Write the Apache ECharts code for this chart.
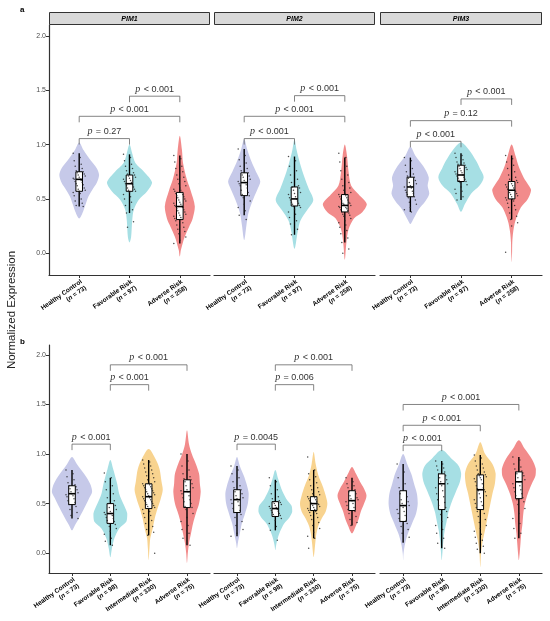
<!DOCTYPE html>
<html>
<head>
<meta charset="utf-8">
<script src="https://cdn.jsdelivr.net/npm/echarts@6/dist/echarts.min.js"></script>
<style>
  html, body { margin: 0; padding: 0; background: #fff; }
  #main { width: 550px; height: 621px; }
</style>
</head>
<body>
<div id="main"></div>
<script>
// ---- data ----
var genes = ['PIM1', 'PIM2', 'PIM3'];
var groupsA = ['Healthy Control', 'Favorable Risk', 'Adverse Risk'];
var nA = [73, 97, 258];
var groupsB = ['Healthy Control', 'Favorable Risk', 'Intermediate Risk', 'Adverse Risk'];
var nB = [73, 98, 330, 75];
var yTicks = [0, 0.5, 1, 1.5, 2];

// violin outlines: [value, half width as share of the category slot]
var violinA_PIM1 = [
  [[1.02,0],[0.95,0.08],[0.85,0.22],[0.78,0.33],[0.72,0.37],[0.65,0.33],[0.58,0.24],[0.52,0.17],[0.45,0.12],[0.38,0.07],[0.32,0]],
  [[1.0,0],[0.92,0.05],[0.83,0.11],[0.75,0.27],[0.65,0.42],[0.57,0.33],[0.49,0.17],[0.4,0.08],[0.3,0.05],[0.15,0.03],[0.1,0]],
  [[1.08,0],[0.95,0.04],[0.83,0.06],[0.68,0.13],[0.58,0.2],[0.43,0.28],[0.32,0.24],[0.24,0.17],[0.15,0.09],[0.03,0.02],[-0.03,0]]
];
var violinA_PIM2 = [
  [[1.05,0],[0.95,0.06],[0.85,0.13],[0.75,0.22],[0.66,0.3],[0.58,0.24],[0.5,0.17],[0.42,0.11],[0.35,0.07],[0.25,0.04],[0.12,0]],
  [[1.05,0],[0.95,0.04],[0.85,0.09],[0.75,0.15],[0.6,0.26],[0.49,0.35],[0.4,0.24],[0.3,0.11],[0.2,0.06],[0.04,0]],
  [[1.0,0],[0.9,0.04],[0.75,0.07],[0.62,0.12],[0.54,0.26],[0.45,0.41],[0.38,0.33],[0.32,0.17],[0.22,0.07],[0.1,0.03],[-0.06,0]]
];
var violinA_PIM3 = [
  [[0.98,0],[0.9,0.09],[0.8,0.24],[0.7,0.34],[0.62,0.32],[0.55,0.35],[0.48,0.28],[0.4,0.15],[0.3,0.04],[0.27,0]],
  [[1.02,0],[0.95,0.15],[0.85,0.28],[0.78,0.35],[0.7,0.42],[0.62,0.34],[0.55,0.19],[0.45,0.07],[0.38,0]],
  [[1.0,0],[0.9,0.07],[0.8,0.13],[0.7,0.22],[0.62,0.32],[0.58,0.36],[0.5,0.3],[0.42,0.17],[0.3,0.07],[0.2,0.03],[0.1,0.012],[0.0,0.008],[-0.08,0]]
];
var violinB_PIM1 = [
  [[0.97,0],[0.9,0.12],[0.8,0.3],[0.7,0.45],[0.62,0.5],[0.55,0.42],[0.45,0.3],[0.35,0.17],[0.28,0.07],[0.23,0]],
  [[0.94,0],[0.85,0.07],[0.7,0.17],[0.6,0.22],[0.5,0.32],[0.4,0.42],[0.32,0.4],[0.25,0.22],[0.15,0.1],[0.05,0.04],[-0.04,0]],
  [[1.05,0],[0.95,0.17],[0.85,0.27],[0.72,0.32],[0.64,0.35],[0.55,0.3],[0.45,0.22],[0.35,0.15],[0.25,0.1],[0.15,0.04],[0.05,0.02],[-0.07,0]],
  [[1.24,0],[1.1,0.05],[1.0,0.12],[0.9,0.22],[0.8,0.3],[0.7,0.32],[0.62,0.34],[0.5,0.3],[0.4,0.22],[0.3,0.15],[0.2,0.1],[0.1,0.05],[0.0,0.02],[-0.1,0]]
];
var violinB_PIM2 = [
  [[0.97,0],[0.88,0.07],[0.78,0.17],[0.68,0.25],[0.6,0.29],[0.5,0.27],[0.4,0.2],[0.3,0.12],[0.2,0.07],[0.1,0.02],[0.05,0]],
  [[0.84,0],[0.75,0.07],[0.65,0.15],[0.55,0.27],[0.48,0.4],[0.42,0.42],[0.36,0.35],[0.3,0.22],[0.22,0.12],[0.15,0.06],[0.08,0.02],[0.03,0]],
  [[1.02,0],[0.9,0.05],[0.78,0.12],[0.68,0.22],[0.58,0.3],[0.5,0.34],[0.42,0.3],[0.35,0.2],[0.28,0.12],[0.2,0.07],[0.1,0.04],[-0.04,0]],
  [[0.87,0],[0.8,0.1],[0.72,0.2],[0.65,0.3],[0.58,0.36],[0.5,0.3],[0.42,0.22],[0.35,0.17],[0.28,0.1],[0.2,0]]
];
var violinB_PIM3 = [
  [[1.0,0],[0.9,0.1],[0.8,0.2],[0.7,0.27],[0.6,0.34],[0.5,0.36],[0.4,0.32],[0.3,0.22],[0.2,0.12],[0.1,0.05],[0.0,0.01],[-0.07,0]],
  [[1.04,0],[0.95,0.25],[0.88,0.42],[0.8,0.48],[0.72,0.45],[0.62,0.35],[0.52,0.25],[0.42,0.17],[0.32,0.12],[0.22,0.07],[0.12,0.04],[0.02,0.02],[-0.07,0]],
  [[1.12,0],[1.0,0.12],[0.9,0.3],[0.8,0.38],[0.7,0.36],[0.6,0.3],[0.5,0.25],[0.4,0.2],[0.3,0.15],[0.2,0.1],[0.1,0.05],[0.0,0.02],[-0.14,0]],
  [[1.14,0],[1.05,0.15],[0.95,0.32],[0.85,0.42],[0.78,0.41],[0.7,0.32],[0.6,0.22],[0.5,0.15],[0.4,0.11],[0.3,0.09],[0.2,0.06],[0.1,0.04],[0.0,0.02],[-0.07,0]]
];

// box stats: [lower whisker, Q1, median, Q3, upper whisker]
var boxA_PIM1 = [[0.43,0.57,0.68,0.75,0.92],[0.37,0.57,0.64,0.72,0.91],[0.09,0.31,0.43,0.56,0.9]];
var boxA_PIM2 = [[0.35,0.53,0.65,0.74,0.96],[0.17,0.435,0.5,0.61,0.89],[0.1,0.38,0.44,0.54,0.88]];
var boxA_PIM3 = [[0.38,0.52,0.61,0.7,0.88],[0.49,0.66,0.72,0.81,0.92],[0.31,0.5,0.58,0.66,0.9]];
var boxB_PIM1 = [[0.35,0.49,0.6,0.68,0.84],[0.08,0.3,0.4,0.5,0.76],[0.18,0.45,0.57,0.7,0.94],[0.08,0.46,0.62,0.74,1.0]];
var boxB_PIM2 = [[0.17,0.41,0.54,0.64,0.88],[0.23,0.37,0.45,0.52,0.74],[0.15,0.43,0.5,0.57,0.84],[0.28,0.43,0.53,0.63,0.76]];
var boxB_PIM3 = [[0.11,0.32,0.48,0.63,0.9],[0.05,0.44,0.7,0.8,0.93],[0.0,0.44,0.64,0.79,0.99],[0.15,0.55,0.72,0.82,0.97]];

// a sample of the individual samples shown as dots
var pointsA_PIM1 = [
  [0.92,0.88,0.85,0.82,0.8,0.78,0.76,0.75,0.74,0.73,0.72,0.71,0.7,0.69,0.68,0.68,0.67,0.66,0.65,0.64,0.63,0.62,0.6,0.59,0.58,0.57,0.56,0.55,0.53,0.5,0.48,0.46,0.44,0.43],
  [0.91,0.88,0.85,0.82,0.8,0.78,0.76,0.74,0.73,0.72,0.71,0.7,0.69,0.68,0.67,0.66,0.65,0.64,0.63,0.62,0.61,0.6,0.59,0.58,0.57,0.56,0.54,0.52,0.5,0.47,0.44,0.4,0.37,0.29,0.24],
  [0.9,0.87,0.84,0.8,0.78,0.75,0.72,0.7,0.68,0.66,0.64,0.62,0.6,0.59,0.58,0.57,0.56,0.55,0.54,0.53,0.52,0.51,0.5,0.49,0.48,0.47,0.46,0.45,0.44,0.43,0.43,0.42,0.41,0.4,0.39,0.38,0.37,0.36,0.35,0.34,0.33,0.32,0.31,0.3,0.28,0.26,0.24,0.22,0.2,0.18,0.15,0.12,0.09]
];
var pointsA_PIM2 = [
  [0.96,0.9,0.86,0.83,0.8,0.78,0.76,0.74,0.72,0.71,0.7,0.68,0.67,0.66,0.65,0.64,0.63,0.62,0.6,0.58,0.56,0.54,0.53,0.51,0.48,0.45,0.42,0.39,0.35,0.31],
  [0.89,0.85,0.8,0.76,0.72,0.68,0.65,0.62,0.61,0.6,0.58,0.56,0.55,0.54,0.52,0.51,0.5,0.49,0.48,0.47,0.46,0.45,0.44,0.43,0.42,0.4,0.38,0.36,0.33,0.3,0.27,0.22,0.17],
  [0.92,0.88,0.84,0.8,0.76,0.72,0.68,0.65,0.62,0.6,0.58,0.56,0.55,0.54,0.53,0.52,0.51,0.5,0.49,0.48,0.47,0.46,0.46,0.45,0.44,0.44,0.43,0.42,0.42,0.41,0.4,0.39,0.38,0.37,0.36,0.35,0.34,0.32,0.3,0.28,0.26,0.24,0.21,0.18,0.14,0.1,0.04,0.0]
];
var pointsA_PIM3 = [
  [0.88,0.85,0.81,0.78,0.75,0.73,0.71,0.7,0.69,0.67,0.65,0.64,0.62,0.61,0.6,0.58,0.57,0.56,0.55,0.54,0.52,0.51,0.49,0.47,0.45,0.42,0.4,0.38],
  [0.92,0.9,0.88,0.86,0.84,0.83,0.82,0.81,0.8,0.79,0.78,0.77,0.76,0.75,0.74,0.73,0.72,0.71,0.7,0.69,0.68,0.67,0.66,0.65,0.63,0.61,0.59,0.57,0.55,0.52,0.49],
  [0.9,0.87,0.84,0.81,0.78,0.75,0.72,0.7,0.68,0.67,0.66,0.65,0.64,0.63,0.62,0.61,0.6,0.59,0.58,0.58,0.57,0.56,0.55,0.54,0.53,0.52,0.51,0.5,0.49,0.48,0.46,0.44,0.42,0.4,0.37,0.34,0.31,0.28,0.25,0.01]
];
var pointsB_PIM1 = [
  [0.84,0.8,0.77,0.74,0.71,0.69,0.68,0.67,0.65,0.64,0.62,0.61,0.6,0.59,0.58,0.57,0.55,0.53,0.51,0.49,0.47,0.44,0.41,0.38,0.35],
  [0.81,0.76,0.72,0.68,0.64,0.6,0.56,0.53,0.5,0.48,0.46,0.44,0.42,0.41,0.4,0.39,0.38,0.36,0.35,0.33,0.32,0.3,0.29,0.27,0.25,0.22,0.19,0.15,0.12,0.08],
  [0.94,0.92,0.9,0.88,0.86,0.84,0.82,0.8,0.78,0.76,0.74,0.72,0.71,0.7,0.69,0.68,0.67,0.66,0.65,0.64,0.63,0.62,0.61,0.6,0.59,0.58,0.57,0.56,0.55,0.54,0.53,0.52,0.51,0.5,0.49,0.48,0.47,0.46,0.45,0.44,0.42,0.4,0.38,0.36,0.33,0.3,0.27,0.24,0.21,0.18,0.0],
  [1.0,0.93,0.88,0.84,0.8,0.77,0.75,0.74,0.72,0.7,0.68,0.66,0.64,0.63,0.62,0.6,0.58,0.56,0.54,0.52,0.5,0.47,0.46,0.44,0.4,0.36,0.32,0.28,0.24,0.2,0.15,0.08]
];
var pointsB_PIM2 = [
  [0.88,0.84,0.8,0.76,0.72,0.68,0.66,0.64,0.62,0.6,0.58,0.56,0.55,0.54,0.52,0.5,0.48,0.45,0.43,0.41,0.39,0.36,0.32,0.28,0.24,0.2,0.17],
  [0.76,0.72,0.68,0.64,0.6,0.57,0.55,0.53,0.52,0.51,0.5,0.49,0.48,0.47,0.46,0.45,0.44,0.43,0.42,0.41,0.4,0.39,0.38,0.37,0.35,0.33,0.3,0.27,0.23,0.13],
  [0.97,0.84,0.8,0.77,0.74,0.71,0.68,0.66,0.64,0.62,0.6,0.59,0.58,0.57,0.56,0.55,0.54,0.53,0.52,0.51,0.5,0.5,0.49,0.48,0.47,0.46,0.45,0.44,0.43,0.42,0.41,0.4,0.38,0.36,0.34,0.31,0.28,0.25,0.21,0.17,0.15,0.05],
  [0.76,0.72,0.7,0.68,0.66,0.64,0.62,0.6,0.58,0.56,0.55,0.54,0.53,0.52,0.5,0.48,0.46,0.44,0.42,0.4,0.37,0.34,0.31,0.28]
];
var pointsB_PIM3 = [
  [0.9,0.82,0.76,0.7,0.66,0.63,0.6,0.57,0.54,0.52,0.5,0.48,0.46,0.44,0.42,0.4,0.38,0.35,0.33,0.32,0.3,0.27,0.24,0.2,0.16,0.11],
  [0.93,0.9,0.88,0.86,0.84,0.82,0.8,0.78,0.76,0.74,0.72,0.7,0.68,0.66,0.63,0.6,0.57,0.54,0.51,0.48,0.46,0.44,0.42,0.39,0.36,0.32,0.28,0.24,0.2,0.15,0.1,0.05],
  [0.99,0.96,0.93,0.9,0.88,0.86,0.84,0.82,0.8,0.79,0.78,0.77,0.76,0.75,0.74,0.72,0.7,0.68,0.66,0.65,0.64,0.63,0.62,0.6,0.58,0.56,0.54,0.52,0.5,0.48,0.46,0.44,0.42,0.4,0.37,0.34,0.31,0.28,0.25,0.22,0.19,0.16,0.13,0.1,0.07,0.04,0.0],
  [0.97,0.94,0.9,0.87,0.85,0.83,0.82,0.81,0.8,0.78,0.76,0.74,0.72,0.7,0.68,0.66,0.64,0.62,0.6,0.58,0.56,0.54,0.52,0.49,0.45,0.4,0.35,0.3,0.25,0.2,0.15]
];

// significance brackets: [from group, to group, height, p text]
var bracketsA_PIM1 = [[1,2,1.445,'< 0.001'],[0,2,1.26,'< 0.001'],[0,1,1.055,'= 0.27']];
var bracketsA_PIM2 = [[1,2,1.45,'< 0.001'],[0,2,1.26,'< 0.001'],[0,1,1.055,'< 0.001']];
var bracketsA_PIM3 = [[1,2,1.42,'< 0.001'],[0,2,1.22,'= 0.12'],[0,1,1.03,'< 0.001']];
var bracketsB_PIM1 = [[1,3,1.9,'< 0.001'],[1,2,1.7,'< 0.001'],[0,1,1.1,'< 0.001']];
var bracketsB_PIM2 = [[1,3,1.9,'< 0.001'],[1,2,1.7,'= 0.006'],[0,1,1.1,'= 0.0045']];
var bracketsB_PIM3 = [[0,3,1.5,'< 0.001'],[0,2,1.29,'< 0.001'],[0,1,1.09,'< 0.001']];

// ---- styling ----
var colHC = '#c6c9e9', colFR = '#a6dfe4', colIR = '#f8d38f', colAR = '#f28b8b';
var colorsA = [colHC, colFR, colAR];
var colorsB = [colHC, colFR, colIR, colAR];
var panelLefts = [49, 214, 380];
var panelWidths = [161, 161, 162];
var pad = 0.6;   // discrete axis expansion, as ggplot does

var panels = [
  { top: 25, height: 250, col: 0, groups: groupsA, ns: nA, colors: colorsA, violins: violinA_PIM1, boxes: boxA_PIM1, points: pointsA_PIM1, brackets: bracketsA_PIM1 },
  { top: 25, height: 250, col: 1, groups: groupsA, ns: nA, colors: colorsA, violins: violinA_PIM2, boxes: boxA_PIM2, points: pointsA_PIM2, brackets: bracketsA_PIM2 },
  { top: 25, height: 250, col: 2, groups: groupsA, ns: nA, colors: colorsA, violins: violinA_PIM3, boxes: boxA_PIM3, points: pointsA_PIM3, brackets: bracketsA_PIM3 },
  { top: 345, height: 228, col: 0, groups: groupsB, ns: nB, colors: colorsB, violins: violinB_PIM1, boxes: boxB_PIM1, points: pointsB_PIM1, brackets: bracketsB_PIM1 },
  { top: 345, height: 228, col: 1, groups: groupsB, ns: nB, colors: colorsB, violins: violinB_PIM2, boxes: boxB_PIM2, points: pointsB_PIM2, brackets: bracketsB_PIM2 },
  { top: 345, height: 228, col: 2, groups: groupsB, ns: nB, colors: colorsB, violins: violinB_PIM3, boxes: boxB_PIM3, points: pointsB_PIM3, brackets: bracketsB_PIM3 }
];

var chart = echarts.init(document.getElementById('main'), null, { renderer: 'canvas' });

function violinItem(p) {
  return function (params, api) {
    var g = api.value(0);
    var unit = api.size([1, 0])[0];
    // widths were read against equal slots: panel width / number of groups
    var slot = unit * (p.groups.length - 1 + 2 * pad) / p.groups.length;
    var cx = api.coord([g, 0])[0];
    var yOf = function (v) { return api.coord([g, v])[1]; };
    var right = [], left = [];
    var maxW = 0;
    p.violins[g].forEach(function (d) {
      right.push([cx + d[1] * slot, yOf(d[0])]);
      if (d[1] > 0) left.unshift([cx - d[1] * slot, yOf(d[0])]);
      maxW = Math.max(maxW, d[1] * slot);
    });
    var shape = p.violins[g];
    var yTop = yOf(shape[0][0]), yBot = yOf(shape[shape.length - 1][0]);
    var b = p.boxes[g];
    var bw = 3.3;
    var children = [
      { type: 'polygon',
        shape: { points: right.concat(left), smooth: 0.3,
          smoothConstraint: [[cx - maxW, yTop], [cx + maxW, yBot]] },
        style: { fill: p.colors[g], stroke: null } },
      { type: 'line', shape: { x1: cx, y1: yOf(b[0]), x2: cx, y2: yOf(b[4]) },
        style: { stroke: '#000', lineWidth: 1.4 } },
      { type: 'rect', shape: { x: cx - bw, y: yOf(b[3]), width: 2 * bw, height: yOf(b[1]) - yOf(b[3]) },
        style: { fill: '#fff', stroke: '#000', lineWidth: 1 } }
    ];
    // jittered dots, spread sideways in a fixed pattern
    p.points[g].forEach(function (v, i) {
      var off = (((i * 7) % 13) / 12 - 0.5) * 12;
      children.push({ type: 'circle', shape: { cx: cx + off, cy: yOf(v), r: 0.75 },
        style: { fill: 'rgba(30,30,30,0.8)' } });
    });
    children.push({ type: 'line', shape: { x1: cx - bw, y1: yOf(b[2]), x2: cx + bw, y2: yOf(b[2]) },
      style: { stroke: '#000', lineWidth: 1.6 } });
    return { type: 'group', children: children };
  };
}

function bracketItem(p) {
  return function (params, api) {
    var k = p.brackets[params.dataIndex];
    var a = api.coord([k[0], k[2]]);
    var b = api.coord([k[1], k[2]]);
    return { type: 'group', children: [
      { type: 'polyline', shape: { points: [[a[0], a[1] + 6], [a[0], a[1]], [b[0], b[1]], [b[0], b[1] + 6]] },
        style: { stroke: '#666', lineWidth: 0.8, fill: null } },
      { type: 'text', x: (a[0] + b[0]) / 2, y: a[1] - 1,
        style: { text: '{i|p} {t|' + k[3] + '}', align: 'center', verticalAlign: 'bottom',
          rich: {
            i: { fontFamily: 'Liberation Serif', fontStyle: 'italic', fontSize: 10, fill: '#333' },
            t: { fontFamily: 'Liberation Sans', fontSize: 9, fill: '#333' }
          } } }
    ] };
  };
}

var grids = [], xAxes = [], yAxes = [], series = [];
panels.forEach(function (p, i) {
  var idx = p.groups.map(function (g, k) { return k; });
  grids.push({ left: panelLefts[p.col], width: panelWidths[p.col], top: p.top, height: p.height, containLabel: false, outerBoundsMode: 'none' });
  xAxes.push({
    gridIndex: i, type: 'value', min: -pad, max: p.groups.length - 1 + pad, position: 'bottom',
    axisLine: { onZero: false, lineStyle: { color: '#333', width: 1.2 } },
    axisTick: { show: true, length: 3, lineStyle: { color: '#333' }, customValues: idx },
    axisLabel: {
      customValues: idx, rotate: 35, margin: 3, verticalAlign: 'top', align: 'right',
      formatter: function (v) {
        var k = Math.round(v);
        return '{b|' + p.groups[k] + '}\n{b|(}{bi|n}{b| = ' + p.ns[k] + ')}';
      },
      rich: {
        b: { fontFamily: 'Liberation Sans', fontWeight: 'bold', fontSize: 6.5, color: '#000', lineHeight: 7.5, align: 'right' },
        bi: { fontFamily: 'Liberation Sans', fontWeight: 'bold', fontStyle: 'italic', fontSize: 6.5, color: '#000', lineHeight: 7.5, align: 'right' }
      }
    },
    splitLine: { show: false }
  });
  yAxes.push({
    gridIndex: i, type: 'value', min: -0.2, max: 2.1,
    axisLine: { show: p.col === 0, onZero: false, lineStyle: { color: '#333', width: 1.2 } },
    axisTick: { show: p.col === 0, length: 3, lineStyle: { color: '#333' }, customValues: yTicks },
    axisLabel: { show: p.col === 0, customValues: yTicks, margin: 3, fontSize: 7, color: '#4d4d4d',
      fontFamily: 'Liberation Sans', formatter: function (v) { return v.toFixed(1); } },
    splitLine: { show: false }
  });
  series.push({
    type: 'custom', xAxisIndex: i, yAxisIndex: i, silent: true,
    renderItem: violinItem(p), encode: { x: 0, y: 1 },
    data: idx.map(function (k) { return [k, 0]; })
  });
  series.push({
    type: 'custom', xAxisIndex: i, yAxisIndex: i, silent: true,
    renderItem: bracketItem(p), encode: { x: 0, y: 1 },
    data: p.brackets.map(function (k) { return [k[0], k[2]]; })
  });
});

var graphics = [
  { type: 'text', x: 20, y: 10, style: { text: 'a', fontFamily: 'Liberation Sans', fontWeight: 'bold', fontSize: 8, fill: '#000', verticalAlign: 'middle' } },
  { type: 'text', x: 20, y: 342, style: { text: 'b', fontFamily: 'Liberation Sans', fontWeight: 'bold', fontSize: 8, fill: '#000', verticalAlign: 'middle' } },
  { type: 'text', x: 12, y: 310, rotation: Math.PI / 2,
    style: { text: 'Normalized Expression', fontFamily: 'Liberation Sans', fontSize: 11.5, fill: '#222', align: 'center', verticalAlign: 'middle' } }
];
genes.forEach(function (g, c) {
  graphics.push({ type: 'rect', shape: { x: panelLefts[c] + 0.5, y: 12.5, width: panelWidths[c] - 1, height: 12 },
    style: { fill: '#d9d9d9', stroke: '#333', lineWidth: 1 } });
  graphics.push({ type: 'text', x: panelLefts[c] + panelWidths[c] / 2, y: 18.7,
    style: { text: g, fontFamily: 'Liberation Sans', fontWeight: 'bold', fontStyle: 'italic', fontSize: 7, fill: '#000', align: 'center', verticalAlign: 'middle' } });
});

chart.setOption({
  animation: false,
  backgroundColor: '#fff',
  grid: grids,
  xAxis: xAxes,
  yAxis: yAxes,
  series: series,
  graphic: graphics
});
</script>
</body>
</html>
